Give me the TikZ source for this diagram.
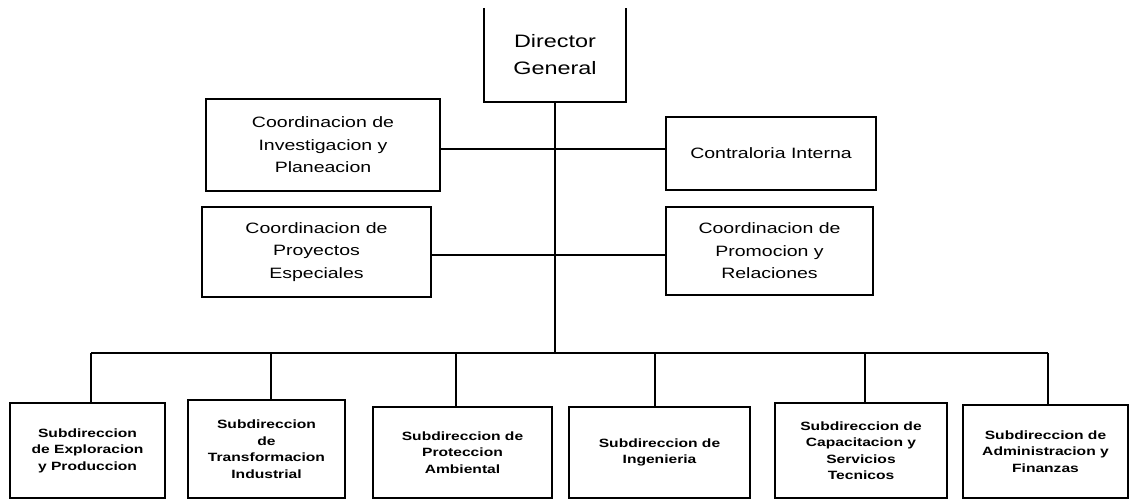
\documentclass[tikz,border=0pt]{standalone}
\usepackage{fontspec}
\setmainfont{Liberation Sans}
\newfontfamily\orgfont[FakeStretch=1.3]{Liberation Sans}
\begin{document}
\begin{tikzpicture}[x=1pt,y=-1pt,
  box/.style={draw, line width=2.2pt, inner sep=0pt, align=center},
  toptext/.style={font=\orgfont\fontsize{18}{27}\selectfont},
  midtext/.style={font=\orgfont\fontsize{15}{22.5}\selectfont},
  lowtext/.style={font=\orgfont\bfseries\fontsize{12}{16.5}\selectfont},
  link/.style={line width=2pt},
  edge/.style={line width=2.2pt}]
\useasboundingbox (0,0) rectangle (1131,501);

% Director General (open top)
\node[inner sep=0pt, align=center, minimum width=142, minimum height=94, toptext] (dg) at (555,55) {Director\\General};
\draw[edge] (dg.north west) -- (dg.south west) -- (dg.south east) -- (dg.north east);

% staff boxes
\node[box, midtext, minimum width=234, minimum height=92] (l1) at (323,145) {Coordinacion de\\Investigacion y\\Planeacion};
\node[box, midtext, minimum width=210, minimum height=73] (r1) at (771,153.5) {Contraloria Interna};
\node[box, midtext, minimum width=229, minimum height=90] (l2) at (316.5,252) {Coordinacion de\\Proyectos\\Especiales};
\node[box, midtext, minimum width=207, minimum height=88] (r2) at (769.5,251) {Coordinacion de\\Promocion y\\Relaciones};

% bottom boxes
\node[box, lowtext, minimum width=155, minimum height=95] (b1) at (87.5,450.5) {Subdireccion\\de Exploracion\\y Produccion};
\node[box, lowtext, minimum width=157, minimum height=98] (b2) at (266.5,449) {Subdireccion\\de\\Transformacion\\Industrial};
\node[box, lowtext, minimum width=179, minimum height=91] (b3) at (462.5,452.5) {Subdireccion de\\Proteccion\\Ambiental};
\node[box, lowtext, minimum width=181, minimum height=91] (b4) at (659.5,452.5) {Subdireccion de\\Ingenieria};
\node[box, lowtext, minimum width=172, minimum height=95] (b5) at (861,450.5) {Subdireccion de\\Capacitacion y\\Servicios\\Tecnicos};
\node[box, lowtext, minimum width=165, minimum height=93] (b6) at (1045.5,451.5) {Subdireccion de\\Administracion y\\Finanzas};

% junctions
\coordinate (j1) at (555,149);
\coordinate (j2) at (555,255);
\coordinate (hub) at (555,353);
\coordinate (t1) at (91,353);
\coordinate (t2) at (271,353);
\coordinate (t3) at (456,353);
\coordinate (t4) at (655,353);
\coordinate (t5) at (865,353);
\coordinate (t6) at (1048,353);

% connectors
\draw[link] (dg.south) -- (hub);
\draw[link] (l1.east |- j1) -- (r1.west |- j1);
\draw[link] (l2.east |- j2) -- (r2.west |- j2);
\draw[link] (t1) -- (t6);
\foreach \i in {1,...,6} {
  \draw[link] (t\i) -- (t\i |- b\i.north);
}
\end{tikzpicture}
\end{document}
